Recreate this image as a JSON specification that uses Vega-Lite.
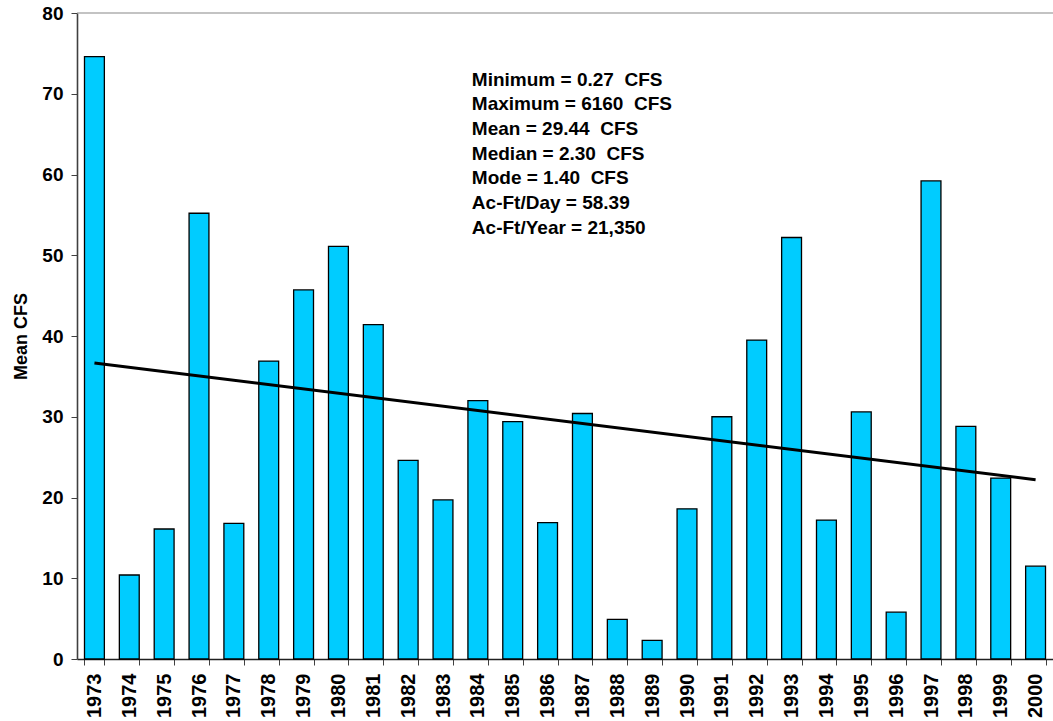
{
  "$schema": "https://vega.github.io/schema/vega-lite/v6.json",
  "width": 976,
  "height": 646,
  "autosize": {"type": "none"},
  "padding": {"left": 77, "top": 13, "right": 0, "bottom": 62},
  "background": "white",
  "config": {
    "font": "Liberation Sans",
    "view": {"stroke": null}
  },
  "datasets": {
    "flows": [
      {"year": "1973", "cfs": 74.6},
      {"year": "1974", "cfs": 10.4},
      {"year": "1975", "cfs": 16.1},
      {"year": "1976", "cfs": 55.2},
      {"year": "1977", "cfs": 16.8},
      {"year": "1978", "cfs": 36.9},
      {"year": "1979", "cfs": 45.7},
      {"year": "1980", "cfs": 51.1},
      {"year": "1981", "cfs": 41.4},
      {"year": "1982", "cfs": 24.6},
      {"year": "1983", "cfs": 19.7},
      {"year": "1984", "cfs": 32.0},
      {"year": "1985", "cfs": 29.4},
      {"year": "1986", "cfs": 16.9},
      {"year": "1987", "cfs": 30.4},
      {"year": "1988", "cfs": 4.9},
      {"year": "1989", "cfs": 2.3},
      {"year": "1990", "cfs": 18.6},
      {"year": "1991", "cfs": 30.0},
      {"year": "1992", "cfs": 39.5},
      {"year": "1993", "cfs": 52.2},
      {"year": "1994", "cfs": 17.2},
      {"year": "1995", "cfs": 30.6},
      {"year": "1996", "cfs": 5.8},
      {"year": "1997", "cfs": 59.2},
      {"year": "1998", "cfs": 28.8},
      {"year": "1999", "cfs": 22.4},
      {"year": "2000", "cfs": 11.5}
    ],
    "trend": [
      {"year": "1973", "cfs": 36.66},
      {"year": "2000", "cfs": 22.2}
    ],
    "stats": [
      {"label": "summary"}
    ]
  },
  "layer": [
    {
      "data": {"name": "flows"},
      "mark": {"type": "bar", "fill": "#00CCFF", "stroke": "#000000", "strokeWidth": 1.3},
      "encoding": {
        "x": {
          "field": "year",
          "type": "nominal",
          "sort": null,
          "scale": {"paddingInner": 0.43, "paddingOuter": 0.215},
          "axis": {
            "title": null,
            "labelAngle": -90,
            "labelAlign": "right",
            "labelBaseline": "middle",
            "labelFontSize": 20,
            "labelFontWeight": "bold",
            "labelColor": "#000000",
            "labelPadding": 8,
            "tickBand": "extent",
            "tickSize": 6,
            "tickColor": "#404040",
            "domainColor": "#202020",
            "domainWidth": 1.3
          }
        },
        "y": {
          "field": "cfs",
          "type": "quantitative",
          "scale": {"domain": [0, 80], "nice": false},
          "axis": {
            "title": "Mean CFS",
            "titleFontSize": 18,
            "titleFontWeight": "bold",
            "titleColor": "#000000",
            "titlePadding": 11,
            "values": [0, 10, 20, 30, 40, 50, 60, 70, 80],
            "labelFontSize": 19,
            "labelFontWeight": "bold",
            "labelColor": "#000000",
            "labelPadding": 8,
            "tickSize": 6,
            "tickColor": "#404040",
            "domainColor": "#404040",
            "domainWidth": 1.6,
            "grid": false
          }
        }
      }
    },
    {
      "data": {"values": [{"edge": "top"}]},
      "mark": {"type": "rule", "color": "#888888", "strokeWidth": 1.2},
      "encoding": {"y": {"datum": 80}}
    },
    {
      "data": {"name": "trend"},
      "mark": {"type": "line", "color": "#000000", "strokeWidth": 3},
      "encoding": {
        "x": {"field": "year", "type": "nominal", "sort": null},
        "y": {"field": "cfs", "type": "quantitative"}
      }
    },
    {
      "data": {"name": "stats"},
      "mark": {
        "type": "text",
        "text": [
          "Minimum = 0.27 \u00a0CFS",
          "Maximum = 6160 \u00a0CFS",
          "Mean = 29.44 \u00a0CFS",
          "Median = 2.30 \u00a0CFS",
          "Mode = 1.40 \u00a0CFS",
          "Ac-Ft/Day = 58.39",
          "Ac-Ft/Year = 21,350"
        ],
        "align": "left",
        "baseline": "alphabetic",
        "fontSize": 19,
        "fontWeight": "bold",
        "lineHeight": 24.7,
        "color": "#000000",
        "dx": -6
      },
      "encoding": {
        "x": {"datum": "1984"},
        "y": {"datum": 71}
      }
    }
  ]
}
